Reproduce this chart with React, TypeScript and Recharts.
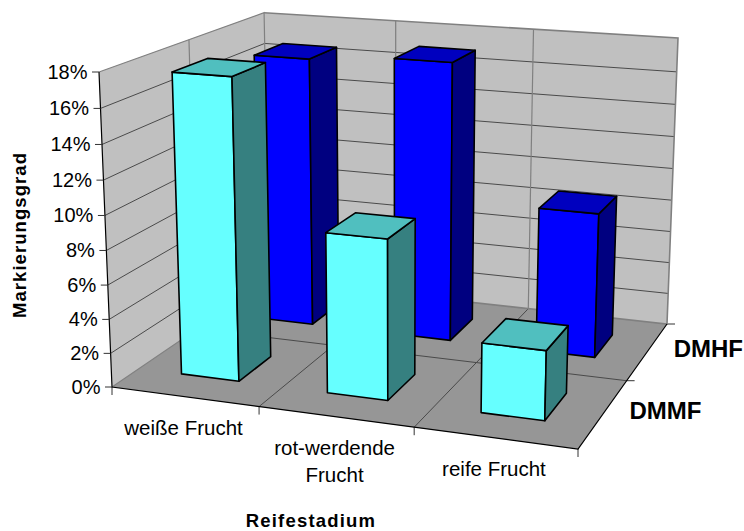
import React from "react";
import { BarChart, Bar, XAxis, YAxis, Customized } from "recharts";

const CHART_W = 744;
const CHART_H = 531;
// the axes need one pixel each or Recharts skips their ticks
const PLOT_X = 1;
const PLOT_W = CHART_W - 1;
const PLOT_H = CHART_H - 1;

const categories = ["weiße Frucht", "rot-werdende Frucht", "reife Frucht"];
const dmmfValues = [17.6, 9.3, 4.0];
const dmhfValues = [16.7, 17.1, 8.8];
const yTicks = [0, 2, 4, 6, 8, 10, 12, 14, 16, 18];
const depthSeries = ["DMMF", "DMHF"];

const rows = categories.map((name, i) => ({ name, DMMF: dmmfValues[i], DMHF: dmhfValues[i] }));

type Pt = [number, number];

// corners of the 3D box on screen: floor and the top of the wall
const FL: Pt = [112, 387];
const FR: Pt = [578, 449];
const BR: Pt = [667, 324];
const BL: Pt = [269, 280];
const FL_TOP: Pt = [99, 72];
const BR_TOP: Pt = [678, 38];

// perspective camera built from the corners above
function makeCamera() {
  const [x0, y0] = FL;
  const [x1, y1] = FR;
  const [x2, y2] = BR;
  const [x3, y3] = BL;
  const dx1 = x1 - x2;
  const dx2 = x3 - x2;
  const dy1 = y1 - y2;
  const dy2 = y3 - y2;
  const sx = x0 - x1 + x2 - x3;
  const sy = y0 - y1 + y2 - y3;
  const den = dx1 * dy2 - dx2 * dy1;
  const g = (sx * dy2 - dx2 * sy) / den;
  const h = (dx1 * sy - sx * dy1) / den;
  const a = x1 - x0 + g * x1;
  const b = x3 - x0 + h * x3;
  const d = y1 - y0 + g * y1;
  const e = y3 - y0 + h * y3;
  const k = (a + b + FL_TOP[0] - BR_TOP[0] * (g + h + 1)) / (BR_TOP[0] - FL_TOP[0]);
  const cx = FL_TOP[0] * (1 + k) - x0;
  const cy = FL_TOP[1] * (1 + k) - y0;
  return (u: number, w: number, v: number): Pt => {
    const q = g * u + h * w + k * v + 1;
    return [(a * u + b * w + cx * v + x0) / q, (d * u + e * w + cy * v + y0) / q];
  };
}

const project = makeCamera();

const poly = (pts: Pt[]) => pts.map((p) => p.map((n) => n.toFixed(1)).join(",")).join(" ");

function Seg({ a, b, stroke, sw = 1 }: { a: Pt; b: Pt; stroke: string; sw?: number }) {
  return <line x1={a[0]} y1={a[1]} x2={b[0]} y2={b[1]} stroke={stroke} strokeWidth={sw} />;
}

const FONT = "'Liberation Sans', Arial, sans-serif";
const GRID = "#4a4a4a";
const FRAME = "#808080";

// walls, floor and everything that sits behind the bars
function Room() {
  const catLines = [1 / 3, 2 / 3];
  return (
    <g>
      <polygon points={poly([FL, BL, project(0, 1, 1), FL_TOP])} fill="#C0C0C0" />
      <polygon points={poly([BL, BR, BR_TOP, project(0, 1, 1)])} fill="#C0C0C0" />
      <polygon points={poly([FL, FR, BR, BL])} fill="#969696" />
      {yTicks.slice(1, -1).map((t) => {
        const v = t / 18;
        return (
          <g key={t}>
            <Seg a={project(0, 0, v)} b={project(0, 1, v)} stroke={GRID} />
            <Seg a={project(0, 1, v)} b={project(1, 1, v)} stroke={GRID} />
          </g>
        );
      })}
      {catLines.map((u) => (
        <g key={u}>
          <Seg a={project(u, 0, 0)} b={project(u, 1, 0)} stroke={GRID} />
          <Seg a={project(u, 1, 0)} b={project(u, 1, 1)} stroke={FRAME} sw={1.2} />
          <Seg a={project(u, 0, 0)} b={[project(u, 0, 0)[0], project(u, 0, 0)[1] + 8]} stroke="#333" />
        </g>
      ))}
      <Seg a={project(0, 0.5, 0)} b={project(0, 0.5, 1)} stroke={FRAME} sw={1.2} />
      <Seg a={project(0, 0.5, 0)} b={project(1, 0.5, 0)} stroke={GRID} />
      <Seg a={project(1, 0.5, 0)} b={[project(1, 0.5, 0)[0] + 8, project(1, 0.5, 0)[1]]} stroke="#333" />
      <Seg a={BR} b={[BR[0] + 8, BR[1]]} stroke="#333" />
      <Seg a={FR} b={[FR[0], FR[1] + 8]} stroke="#333" />
      <Seg a={FL} b={[FL[0], FL[1] + 8]} stroke="#333" />
      <polyline points={poly([FL, BL, project(0, 1, 1), FL_TOP])} fill="none" stroke={FRAME} strokeWidth={1.2} />
      <polyline points={poly([BL, BR, BR_TOP, project(0, 1, 1)])} fill="none" stroke={FRAME} strokeWidth={1.6} />
      <polyline points={poly([FL_TOP, FL, FR, BR])} fill="none" stroke="#000" strokeWidth={1.2} />

      {depthSeries.map((name, i) => {
        const p = project(1, 0.25 + i * 0.5, 0);
        return (
          <text key={name} x={p[0] + 26} y={p[1] + 6} fontFamily={FONT} fontWeight="bold" fontSize={24} fill="#000">
            {name}
          </text>
        );
      })}
      <text
        transform="translate(26,235) rotate(-90)"
        textAnchor="middle"
        fontFamily={FONT}
        fontWeight="bold"
        fontSize={18.5}
        letterSpacing={1.07}
        fill="#000"
      >
        Markierungsgrad
      </text>
      <text x={311} y={527} textAnchor="middle" fontFamily={FONT} fontWeight="bold" fontSize={18.5} letterSpacing={1.2} fill="#000">
        Reifestadium
      </text>
    </g>
  );
}

// draws a bar as a box; Recharts hands over the flat rectangle from its scales
function Box3D(props: any) {
  const { x, y, width, height, d0, d1, front, side, top } = props;
  const u0 = (x - PLOT_X) / PLOT_W;
  const u1 = (x + width - PLOT_X) / PLOT_W;
  const v = (PLOT_H - y) / PLOT_H;
  const v0 = (PLOT_H - y - height) / PLOT_H;
  const f0 = project(u0, d0, v0);
  const f1 = project(u1, d0, v0);
  const f2 = project(u1, d0, v);
  const f3 = project(u0, d0, v);
  const b1 = project(u1, d1, v0);
  const b2 = project(u1, d1, v);
  const b3 = project(u0, d1, v);
  const line = { stroke: "#000", strokeWidth: 1.6, strokeLinejoin: "round" as const };
  return (
    <g>
      <polygon points={poly([f0, f1, f2, f3])} fill={front} {...line} />
      <polygon points={poly([f1, b1, b2, f2])} fill={side} {...line} />
      <polygon points={poly([f3, f2, b2, b3])} fill={top} {...line} />
    </g>
  );
}

function YTick({ y, payload }: any) {
  const p = project(0, 0, (PLOT_H - y) / PLOT_H);
  return (
    <g>
      <Seg a={[p[0] - 7, p[1]]} b={p} stroke="#333" />
      <text x={p[0] - 11.5} y={p[1] + 7} textAnchor="end" fontFamily={FONT} fontSize={20} fill="#000">
        {payload.value}%
      </text>
    </g>
  );
}

function XTick({ x, payload }: any) {
  const p = project((x - PLOT_X) / PLOT_W, 0, 0);
  const words = payload.value === "rot-werdende Frucht" ? ["rot-werdende", "Frucht"] : [payload.value];
  return (
    <g>
      {words.map((w: string, i: number) => (
        <text key={w} x={p[0] - 1} y={p[1] + 38 + i * 27} textAnchor="middle" fontFamily={FONT} fontSize={20.5} fill="#000">
          {w}
        </text>
      ))}
    </g>
  );
}

export default function App() {
  return (
    <div style={{ position: "absolute", left: 0, top: 0, width: CHART_W, height: CHART_H, background: "#fff" }}>
      <BarChart
        width={CHART_W}
        height={CHART_H}
        data={rows}
        margin={{ top: 0, right: 0, bottom: 0, left: 0 }}
        barCategoryGap="30%"
      >
        <Customized component={<Room />} />
        <XAxis
          xAxisId="front"
          dataKey="name"
          height={1}
          interval={0}
          axisLine={false}
          tickLine={false}
          tick={<XTick />}
        />
        <XAxis xAxisId="back" dataKey="name" hide />
        <YAxis
          width={1}
          domain={[0, 18]}
          ticks={yTicks}
          interval={0}
          axisLine={false}
          tickLine={false}
          tick={<YTick />}
        />
        <Bar
          xAxisId="back"
          dataKey="DMHF"
          isAnimationActive={false}
          shape={<Box3D d0={0.65} d1={0.85} front="#0000FF" side="#000080" top="#0000BF" />}
        />
        <Bar
          xAxisId="front"
          dataKey="DMMF"
          isAnimationActive={false}
          shape={<Box3D d0={0.15} d1={0.355} front="#66FFFF" side="#368080" top="#50BFBF" />}
        />
      </BarChart>
    </div>
  );
}
